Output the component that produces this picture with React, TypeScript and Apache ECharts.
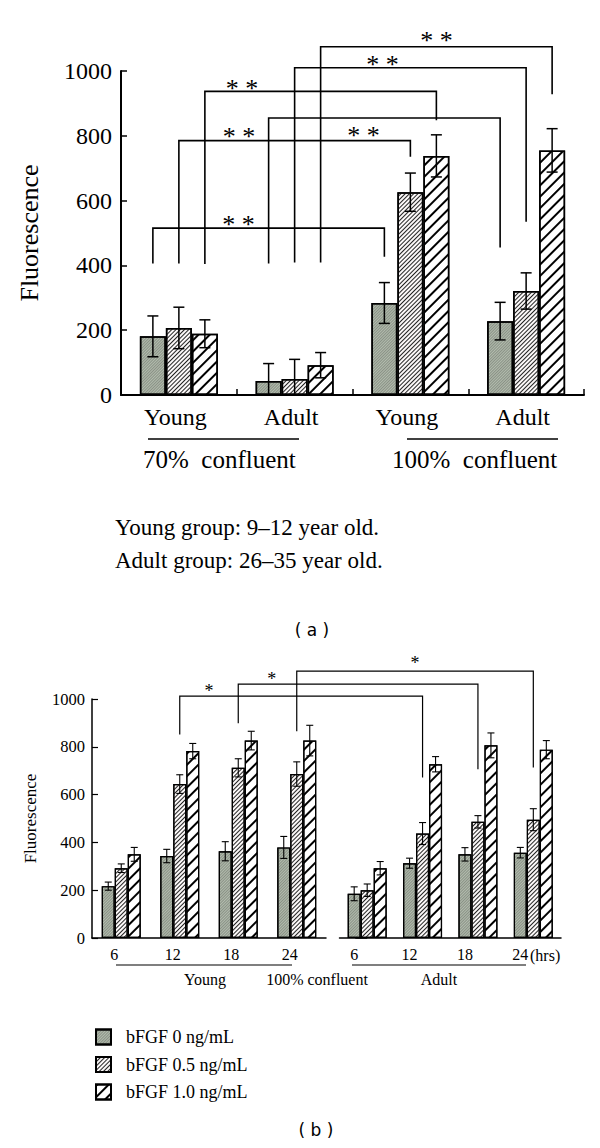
import React, { useEffect, useRef } from "react";
import * as echarts from "echarts";

const SERIES_NAMES = ["bFGF 0 ng/mL", "bFGF 0.5 ng/mL", "bFGF 1.0 ng/mL"];

// ---------- Chart (a) ----------
const catsA = ["Young", "Adult", "Young", "Adult"];
const a0 = [181, 43, 284, 228];
const a1 = [207, 49, 626, 321];
const a2 = [189, 92, 738, 755];
const a0Err = [63, 54, 63, 58];
const a1Err = [64, 61, 59, 56];
const a2Err = [43, 39, 65, 67];
// [leftGroup, leftBar, rightGroup, rightBar, top, leftEnd, rightEnd]
const bracketsA = [
  [0, 0, 2, 0, 515, 406, 427],
  [0, 1, 2, 1, 785, 406, 735],
  [1, 0, 3, 0, 855, 406, 455],
  [0, 2, 2, 2, 937, 404, 848],
  [1, 1, 3, 1, 1010, 409, 535],
  [1, 2, 3, 2, 1075, 409, 928],
];
// "**" marks: [leftGroup, leftBar, rightGroup, rightBar, fraction along, value]
const starsA = [
  [0, 0, 2, 0, 0.37, 542],
  [0, 1, 2, 1, 0.26, 812],
  [1, 0, 3, 0, 0.41, 816],
  [0, 2, 2, 2, 0.16, 962],
  [1, 1, 3, 1, 0.38, 1036],
  [1, 2, 3, 2, 0.5, 1110],
];

// ---------- Chart (b) ----------
const hoursB = ["6", "12", "18", "24"];
const bYoung0 = [217, 343, 363, 379];
const bYoung1 = [292, 644, 712, 686];
const bYoung2 = [350, 782, 826, 826];
const bYoung0Err = [17, 28, 40, 46];
const bYoung1Err = [18, 39, 38, 51];
const bYoung2Err = [29, 32, 39, 64];
const bAdult0 = [185, 313, 350, 357];
const bAdult1 = [200, 437, 486, 495];
const bAdult2 = [292, 727, 806, 788];
const bAdult0Err = [29, 21, 28, 22];
const bAdult1Err = [26, 46, 26, 46];
const bAdult2Err = [28, 32, 52, 38];
// [youngHourIdx, adultHourIdx, top, leftEnd, rightEnd, starT, starValue]
const bracketsB = [
  [1, 1, 1012, 851, 672, 0.12, 1047],
  [2, 2, 1062, 899, 706, 0.14, 1095],
  [3, 3, 1117, 865, 713, 0.5, 1164],
];

const SERIF = "'Liberation Serif', 'DejaVu Serif', serif";
const SANS = "'DejaVu Sans', 'Liberation Sans', sans-serif";

const decals = [
  { symbol: "rect", symbolSize: 1, dashArrayX: [1, 0], dashArrayY: [1, 1], rotation: -Math.PI / 4, color: "rgba(40,45,40,0.3)" },
  { symbol: "rect", symbolSize: 1, dashArrayX: [1, 0], dashArrayY: [1, 2], rotation: -Math.PI / 4, color: "#222" },
  { symbol: "rect", symbolSize: 1, dashArrayX: [1, 0], dashArrayY: [2, 6], rotation: -Math.PI / 4, color: "#000" },
];
const fills = ["#b3bcae", "#fbf8f8", "#ffffff"];

function barSeries(idx: number, data: number[], xAxisIndex: number, yAxisIndex: number, barWidth: number, bw: number) {
  return {
    type: "bar",
    name: SERIES_NAMES[idx],
    xAxisIndex,
    yAxisIndex,
    data,
    barWidth,
    barGap: "0%",
    itemStyle: { color: fills[idx], borderColor: "#000", borderWidth: bw, decal: decals[idx] },
  };
}

function errSeries(xAxisIndex: number, yAxisIndex: number, data: number[][], barW: number, cap: number, lw: number) {
  return {
    type: "custom",
    xAxisIndex,
    yAxisIndex,
    data,
    z: 10,
    silent: true,
    clip: false,
    encode: { x: 0, y: 2 },
    renderItem: (params: any, api: any) => {
      const cat = api.value(0);
      const bar = api.value(1);
      const v = api.value(2);
      const e = api.value(3);
      const lowV = v - e;
      const top = api.coord([cat, v + e]);
      const bot = api.coord([cat, Math.max(lowV, 0)]);
      const x = top[0] + (bar - 1) * barW;
      const st = { stroke: "#000", lineWidth: lw };
      const kids: any[] = [
        { type: "line", shape: { x1: x, y1: top[1], x2: x, y2: bot[1] }, style: st },
        { type: "line", shape: { x1: x - cap, y1: top[1], x2: x + cap, y2: top[1] }, style: st },
      ];
      if (lowV > 0) kids.push({ type: "line", shape: { x1: x - cap, y1: bot[1], x2: x + cap, y2: bot[1] }, style: st });
      return { type: "group", children: kids };
    },
  };
}

function buildErr(vals: number[][], errs: number[][]) {
  const out: number[][] = [];
  for (let g = 0; g < vals[0].length; g++) {
    for (let s = 0; s < vals.length; s++) out.push([g, s, vals[s][g], errs[s][g]]);
  }
  return out;
}

const BAR_A = 26;
const BAR_B = 13;
const plain = (v: number) => String(v);

export default function App() {
  const ref = useRef<HTMLDivElement>(null);
  useEffect(() => {
    if (!ref.current) return;
    const chart = echarts.init(ref.current, null, { renderer: "svg" });
    const axisLabelA = { color: "#000", fontFamily: SERIF, fontSize: 24 };
    const axisLabelB = { color: "#000", fontFamily: SERIF, fontSize: 16 };
    const option: any = {
      animation: false,
      backgroundColor: "#fff",
      grid: [
        { left: 121, top: 71, width: 463, height: 324 },
        { left: 92, top: 699, width: 234, height: 239 },
        { left: 339.5, top: 699, width: 221.5, height: 239 },
      ],
      legend: {
        data: SERIES_NAMES,
        orient: "vertical",
        left: 95,
        top: 1028,
        padding: 0,
        itemWidth: 15,
        itemHeight: 15,
        itemGap: 9.5,
        icon: "rect",
        selectedMode: false,
        textStyle: { color: "#000", fontFamily: SERIF, fontSize: 18, padding: [0, 0, 0, 10] },
      },
      xAxis: [
        {
          type: "category",
          gridIndex: 0,
          data: catsA,
          axisLine: { lineStyle: { color: "#000", width: 2 } },
          axisTick: { show: true, inside: true, length: 6, lineStyle: { color: "#000", width: 1.5 } },
          axisLabel: { ...axisLabelA, margin: 10, padding: [0, 7, 0, 0] },
        },
        {
          type: "category",
          gridIndex: 1,
          data: hoursB,
          axisLine: { lineStyle: { color: "#000", width: 1.5 } },
          axisTick: { show: false },
          axisLabel: { ...axisLabelB, margin: 8, padding: [0, 14, 0, 0] },
        },
        {
          type: "category",
          gridIndex: 2,
          data: hoursB,
          axisLine: { lineStyle: { color: "#000", width: 1.5 } },
          axisTick: { show: false },
          axisLabel: { ...axisLabelB, margin: 8, padding: [0, 26, 0, 0] },
        },
      ],
      yAxis: [
        {
          type: "value",
          gridIndex: 0,
          min: 0,
          max: 1000,
          interval: 200,
          name: "Fluorescence",
          nameLocation: "middle",
          nameGap: 79,
          nameTextStyle: { color: "#000", fontFamily: SERIF, fontSize: 26 },
          axisLine: { show: true, lineStyle: { color: "#000", width: 2 } },
          axisTick: { show: true, inside: true, length: 6, lineStyle: { color: "#000", width: 1.5 } },
          splitLine: { show: false },
          axisLabel: { ...axisLabelA, margin: 9, formatter: plain },
        },
        {
          type: "value",
          gridIndex: 1,
          min: 0,
          max: 1000,
          interval: 200,
          name: "Fluorescence",
          nameLocation: "middle",
          nameGap: 53,
          nameTextStyle: { color: "#000", fontFamily: SERIF, fontSize: 17 },
          axisLine: { show: true, lineStyle: { color: "#000", width: 1.5 } },
          axisTick: { show: true, inside: true, length: 6, lineStyle: { color: "#000", width: 1.2 } },
          splitLine: { show: false },
          axisLabel: { color: "#000", fontFamily: SERIF, fontSize: 16.5, margin: 7, formatter: plain },
        },
        {
          type: "value",
          gridIndex: 2,
          min: 0,
          max: 1000,
          interval: 200,
          show: false,
          splitLine: { show: false },
        },
      ],
      series: [
        barSeries(0, a0, 0, 0, BAR_A, 1.5),
        barSeries(1, a1, 0, 0, BAR_A, 1.5),
        barSeries(2, a2, 0, 0, BAR_A, 1.5),
        errSeries(0, 0, buildErr([a0, a1, a2], [a0Err, a1Err, a2Err]), BAR_A, 5.5, 1.5),
        barSeries(0, bYoung0, 1, 1, BAR_B, 1.2),
        barSeries(1, bYoung1, 1, 1, BAR_B, 1.2),
        barSeries(2, bYoung2, 1, 1, BAR_B, 1.2),
        errSeries(1, 1, buildErr([bYoung0, bYoung1, bYoung2], [bYoung0Err, bYoung1Err, bYoung2Err]), BAR_B, 3.5, 1.1),
        barSeries(0, bAdult0, 2, 2, BAR_B, 1.2),
        barSeries(1, bAdult1, 2, 2, BAR_B, 1.2),
        barSeries(2, bAdult2, 2, 2, BAR_B, 1.2),
        errSeries(2, 2, buildErr([bAdult0, bAdult1, bAdult2], [bAdult0Err, bAdult1Err, bAdult2Err]), BAR_B, 3.5, 1.1),
      ],
    };
    chart.setOption(option);

    // Annotation graphics computed through the chart's own scales
    const g: any[] = [];
    const pA = (cat: number, bar: number, v: number) => {
      const p = chart.convertToPixel({ xAxisIndex: 0, yAxisIndex: 0 }, [cat, v]) as number[];
      return [p[0] + (bar - 1) * BAR_A, p[1]];
    };
    bracketsA.forEach(([lg, lb, rg, rb, top, le, re]) => {
      const l1 = pA(lg, lb, le), l2 = pA(lg, lb, top), r2 = pA(rg, rb, top), r1 = pA(rg, rb, re);
      g.push({ type: "polyline", shape: { points: [l1, l2, r2, r1] }, style: { stroke: "#000", lineWidth: 1.6, fill: null }, z: 20 });
    });
    starsA.forEach(([lg, lb, rg, rb, t, v]) => {
      const l = pA(lg, lb, v), r = pA(rg, rb, v);
      g.push({ type: "text", x: l[0] + (r[0] - l[0]) * t, y: l[1] + 5, style: { text: "* *", font: `26px ${SERIF}`, fill: "#000", align: "center", verticalAlign: "middle" }, z: 20 });
    });
    const pY = (cat: number, v: number) => chart.convertToPixel({ xAxisIndex: 1, yAxisIndex: 1 }, [cat, v]) as number[];
    const pAd = (cat: number, v: number) => chart.convertToPixel({ xAxisIndex: 2, yAxisIndex: 2 }, [cat, v]) as number[];
    bracketsB.forEach(([yc, ac, top, le, re, t, sv]) => {
      const l1 = pY(yc, le), l2 = pY(yc, top), r2 = pAd(ac, top), r1 = pAd(ac, re);
      g.push({ type: "polyline", shape: { points: [l1, l2, r2, r1] }, style: { stroke: "#000", lineWidth: 1.2, fill: null }, z: 20 });
      const s = pY(yc, sv);
      g.push({ type: "text", x: l2[0] + (r2[0] - l2[0]) * t, y: s[1] + 3, style: { text: "*", font: `18px ${SERIF}`, fill: "#000", align: "center", verticalAlign: "middle" }, z: 20 });
    });
    // bridge the x-axis line between the two (b) grids
    const e1 = pY(3.5, 0), e2 = pAd(-0.5, 0);
    g.push({ type: "line", shape: { x1: e1[0], y1: e1[1], x2: e2[0], y2: e2[1] }, style: { stroke: "#000", lineWidth: 1.5 } });

    const txt = (text: string, x: number, y: number, font: string, align = "left") => ({
      type: "text", x, y, style: { text, font, fill: "#000", align, verticalAlign: "middle" },
    });
    // (a) group labels
    g.push({ type: "line", shape: { x1: 148, y1: 439, x2: 299, y2: 439 }, style: { stroke: "#000", lineWidth: 1.6 } });
    g.push({ type: "line", shape: { x1: 407, y1: 439, x2: 558, y2: 439 }, style: { stroke: "#000", lineWidth: 1.6 } });
    g.push(txt("70%  confluent", 143, 459, `25px ${SERIF}`));
    g.push(txt("100%  confluent", 392, 459, `25px ${SERIF}`));
    g.push(txt("Young group: 9–12 year old.", 115, 527, `23px ${SERIF}`));
    g.push(txt("Adult group: 26–35 year old.", 115, 560, `23px ${SERIF}`));
    g.push(txt("( a )", 312, 630, `17px ${SANS}`, "center"));
    // (b) group labels
    g.push({ type: "line", shape: { x1: 116, y1: 965, x2: 292, y2: 965 }, style: { stroke: "#000", lineWidth: 1.2 } });
    g.push({ type: "line", shape: { x1: 352, y1: 965, x2: 526, y2: 965 }, style: { stroke: "#000", lineWidth: 1.2 } });
    g.push(txt("Young", 205, 979, `16px ${SERIF}`, "center"));
    g.push(txt("100% confluent", 317, 979, `16px ${SERIF}`, "center"));
    g.push(txt("Adult", 439, 979, `16px ${SERIF}`, "center"));
    g.push(txt("(hrs)", 530, 955, `16px ${SERIF}`));
    g.push(txt("( b )", 316, 1130, `17px ${SANS}`, "center"));

    chart.setOption({ graphic: g });
    return () => chart.dispose();
  }, []);
  return <div ref={ref} style={{ position: "absolute", left: 0, top: 0, width: 600, height: 1148 }} />;
}
